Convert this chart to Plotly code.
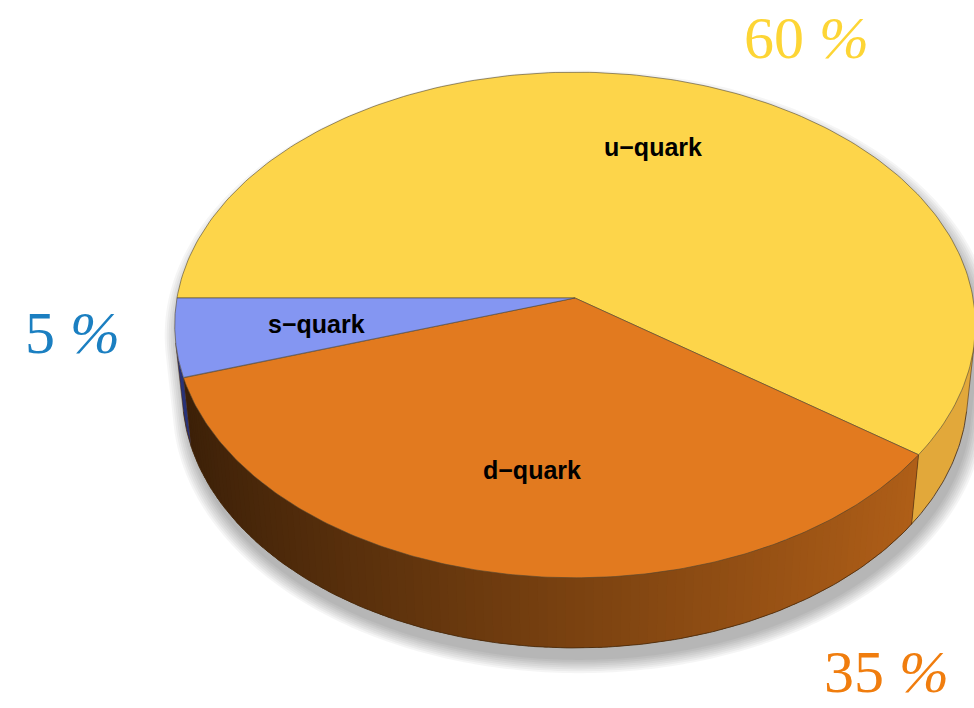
import numpy as np
import plotly.graph_objects as go

# data
LABELS = ["u−quark", "d−quark", "s−quark"]
SHARES = [60, 35, 5]
PCT_TEXT = ["60 <i>%</i>", "35 <i>%</i>", "5 <i>%</i>"]

# style
TOP_COLORS = [(253, 213, 74), (226, 122, 31), (132, 150, 242)]
SIDE_FLAT = {0: (226, 168, 58), 2: (40, 50, 120)}   # slice 1 (d) gets lit gradient
PCT_COLORS = ["#FDD535", "#F07D0E", "#1B7FC1"]
PCT_POS = [(806, 38), (886, 672), (72, 333)]
LABEL_R = [0.68, 0.65, 0.65]

W, H = 974, 708
CX, CY = 575, 298
TILT = np.radians(38.9)
DIST = 7.29
SCALE = 2901.6
THICK = 0.224
START = 180.0  # slices run clockwise from the left


def project(theta_deg, r=1.0, z=0.0):
    t = np.radians(theta_deg)
    X = r * np.cos(t)
    Y = r * np.sin(t)
    depth = DIST + Y * np.cos(TILT) - z * np.sin(TILT)
    u = X / depth
    v = (Y * np.sin(TILT) + z * np.cos(TILT)) / depth
    return CX + SCALE * u, CY - SCALE * v


def rgb(c):
    return "rgb(%d,%d,%d)" % tuple(int(max(0, min(255, v))) for v in c)


def light(theta_deg):
    return 0.543 + 0.29 * np.cos(np.radians(theta_deg))


total = sum(SHARES)
bounds = [START]
for s in SHARES:
    bounds.append(bounds[-1] - 360.0 * s / total)

# visible part of the cylinder wall
a = np.degrees(np.arcsin(1.0 / (DIST * np.cos(TILT))))
vis_lo, vis_hi = -180.0 + a, -a

fig = go.Figure()

# soft drop shadow, pushed down and a little right
back = np.linspace(-a, 180 + a, 200)
front = np.linspace(180 + a, 360 - a, 200)
sx1, sy1 = project(back)
sx2, sy2 = project(front, z=-THICK)
sil_x = np.concatenate([sx1, sx2])
sil_y = np.concatenate([sy1, sy2])
mx, my = sil_x.mean(), sil_y.mean()
for e in range(14, -2, -2):
    fig.add_trace(go.Scatter(
        x=mx + 4 + (sil_x - mx) * (1 + e / 400.0), y=my + 12 + (sil_y - my) * (1 + e / 300.0),
        fill="toself", fillcolor="rgba(0,0,0,0.04)", mode="none",
        hoverinfo="skip", showlegend=False,
    ))


def wall(t_from, t_to, col):
    ts = np.linspace(t_from, t_to, 6)
    xt, yt = project(ts)
    xb, yb = project(ts[::-1], z=-THICK)
    fig.add_trace(go.Scatter(
        x=np.concatenate([xt, xb]), y=np.concatenate([yt, yb]),
        fill="toself", fillcolor=rgb(col), mode="none",
        hoverinfo="skip", showlegend=False,
    ))


# side walls
for i in range(len(SHARES)):
    hi, lo = bounds[i], bounds[i + 1]
    s_hi, s_lo = min(hi, vis_hi), max(lo, vis_lo)
    if s_hi <= s_lo:
        continue
    if i in SIDE_FLAT:
        wall(s_hi, s_lo, SIDE_FLAT[i])
        continue
    mid = (s_hi + s_lo) / 2
    wall(s_hi, s_lo, [c * light(mid) for c in TOP_COLORS[i]])
    n = max(2, int((s_hi - s_lo) / 1.2) + 1)
    edges = np.linspace(s_hi, s_lo, n)
    for t1, t2 in zip(edges[:-1], edges[1:]):
        f = light((t1 + t2) / 2)
        wall(t1, max(t2 - 0.6, s_lo), [c * f for c in TOP_COLORS[i]])

# wall outlines
ts = np.linspace(vis_hi, vis_lo, 200)
bx, by = project(ts, z=-THICK)
fig.add_trace(go.Scatter(x=bx, y=by, mode="lines", line=dict(color="rgba(70,40,10,0.8)", width=1),
                         hoverinfo="skip", showlegend=False))
for t in [vis_hi, vis_lo] + [b for b in bounds if vis_lo < b < vis_hi]:
    ex, ey = project(np.array([t, t]), z=np.array([0.0, -THICK]))
    fig.add_trace(go.Scatter(x=ex, y=ey, mode="lines", line=dict(color="rgba(70,40,10,0.7)", width=0.8),
                             hoverinfo="skip", showlegend=False))

# top face slices
for i, lab in enumerate(LABELS):
    ts = np.linspace(bounds[i], bounds[i + 1], 200)
    ax_, ay_ = project(ts)
    fig.add_trace(go.Scatter(
        x=np.concatenate([[CX], ax_, [CX]]), y=np.concatenate([[CY], ay_, [CY]]),
        fill="toself", fillcolor=rgb(TOP_COLORS[i]), mode="lines",
        line=dict(color="rgba(80,70,50,0.75)", width=0.8),
        name=lab, hoverinfo="name", showlegend=False,
    ))
    mid = (bounds[i] + bounds[i + 1]) / 2
    lx, ly = project(mid, r=LABEL_R[i])
    fig.add_annotation(x=lx, y=ly, text="<b>%s</b>" % lab, showarrow=False,
                       font=dict(family="Liberation Sans, Arial", size=25, color="black"))

for txt, col, (px, py) in zip(PCT_TEXT, PCT_COLORS, PCT_POS):
    fig.add_annotation(x=px, y=py, text=txt, showarrow=False,
                       font=dict(family="Liberation Serif, Times New Roman", size=60, color=col))

fig.update_xaxes(range=[0, W], visible=False)
fig.update_yaxes(range=[H, 0], visible=False)
fig.update_layout(
    width=W, height=H, margin=dict(l=0, r=0, t=0, b=0),
    plot_bgcolor="white", paper_bgcolor="white",
)
# page body has a default 8px margin; drop it so the figure fills the window
fig.write_html("out.html", config={"displayModeBar": False},
               post_script="document.body.style.margin='0';")
